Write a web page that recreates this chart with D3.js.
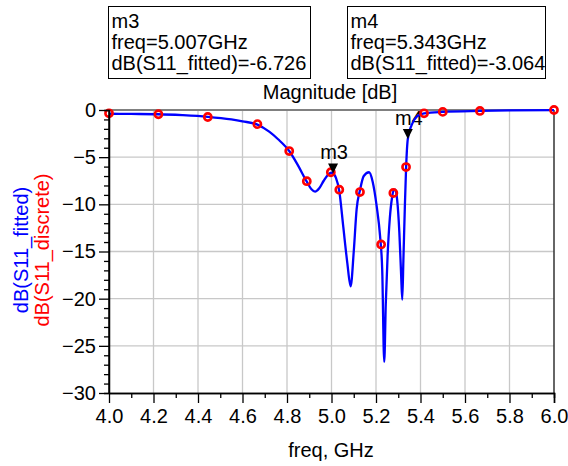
<!DOCTYPE html>
<html>
<head>
<meta charset="utf-8">
<script src="https://cdn.jsdelivr.net/npm/d3@7"></script>
<style>
  body { margin: 0; background: #fff; }
  svg text { font-family: "Liberation Sans", Arial, sans-serif; }
</style>
</head>
<body>
<svg id="chart" width="568" height="466"></svg>
<script>
// discrete samples (red circles)
const discreteFreq = [4.0, 4.222, 4.444, 4.667, 4.81, 4.889, 4.997, 5.035, 5.128, 5.223, 5.278, 5.335, 5.416, 5.5, 5.667, 6.0];
const discreteDb = [-0.35, -0.45, -0.74, -1.5, -4.35, -7.55, -6.6, -8.45, -8.7, -14.25, -8.8, -6.05, -0.35, -0.2, -0.1, 0.0];

// fitted curve (blue line)
const fittedFreq = [4.0, 4.1, 4.222, 4.33, 4.444, 4.55, 4.6, 4.667, 4.72, 4.76, 4.81, 4.85, 4.889, 4.91, 4.926, 4.945, 4.965, 4.985, 5.0, 5.007,
  5.02, 5.035, 5.053, 5.071, 5.086, 5.1, 5.113, 5.128, 5.145, 5.169, 5.185, 5.203, 5.218, 5.228, 5.237, 5.244, 5.252, 5.262, 5.272, 5.28, 5.287,
  5.295, 5.305, 5.313, 5.318, 5.323, 5.33, 5.335, 5.343, 5.36, 5.383, 5.416, 5.5, 5.667, 5.8, 6.0];
const fittedDb = [-0.4, -0.42, -0.45, -0.55, -0.72, -1.0, -1.2, -1.55, -2.3, -3.1, -4.35, -5.9, -7.6, -8.4, -8.65, -8.3, -7.5, -6.85, -6.65, -6.73,
  -7.2, -8.6, -12.4, -16.2, -18.7, -15.0, -10.5, -8.5, -7.0, -6.6, -7.6, -10.2, -13.3, -17.0, -26.7, -20.5, -15.5, -11.5, -9.3, -8.5, -8.45,
  -9.5, -13.0, -17.5, -20.1, -16.0, -10.0, -6.3, -3.06, -1.6, -0.7, -0.35, -0.2, -0.1, -0.05, -0.02];

const markerNames = ["m3", "m4"];
const markerFreq = [5.007, 5.343];
const markerDb = [-6.726, -3.064];

const xTicks = [4.0, 4.2, 4.4, 4.6, 4.8, 5.0, 5.2, 5.4, 5.6, 5.8, 6.0];
const yTicks = [0, -5, -10, -15, -20, -25, -30];

const svg = d3.select("#chart");
const x = d3.scaleLinear().domain([4, 6]).range([109, 554]);
const y = d3.scaleLinear().domain([-30, 0]).range([393, 110]);

// marker readout boxes
const boxes = svg.append("g");
markerNames.forEach((m, i) => {
  const bx = i == 0 ? 108.5 : 347.5;
  const bw = i == 0 ? 202 : 198;
  boxes.append("rect").attr("x", bx).attr("y", 6.5).attr("width", bw).attr("height", 72)
    .attr("fill", "none").attr("stroke", "#000").attr("stroke-width", 1);
  const lines = [m, "freq=" + markerFreq[i].toFixed(3) + "GHz", "dB(S11_fitted)=" + markerDb[i].toFixed(3)];
  lines.forEach((t, j) => {
    boxes.append("text").attr("x", bx + 3).attr("y", 28 + j * 21).attr("font-size", 20).text(t);
  });
});

svg.append("text").attr("x", 330).attr("y", 99).attr("text-anchor", "middle")
  .attr("font-size", 20).text("Magnitude [dB]");

// grid
const grid = svg.append("g").attr("stroke", "#c8c8c8").attr("stroke-width", 1.3);
grid.selectAll(".gx").data(xTicks.slice(1, -1)).enter().append("line")
  .attr("x1", d => x(d)).attr("x2", d => x(d)).attr("y1", y(0)).attr("y2", y(-30));
grid.selectAll(".gy").data(yTicks.slice(1, -1)).enter().append("line")
  .attr("x1", x(4)).attr("x2", x(6)).attr("y1", d => y(d)).attr("y2", d => y(d));

// top and right border
svg.append("line").attr("x1", x(4)).attr("x2", x(6)).attr("y1", y(0)).attr("y2", y(0))
  .attr("stroke", "#808080").attr("stroke-width", 2);
svg.append("line").attr("x1", x(6)).attr("x2", x(6)).attr("y1", y(0)).attr("y2", y(-30))
  .attr("stroke", "#333").attr("stroke-width", 1.5);

// marker labels (sit under the trace)
markerNames.forEach((m, i) => {
  svg.append("text").attr("x", x(markerFreq[i]) + 1).attr("y", y(markerDb[i]) - 14)
    .attr("text-anchor", "middle").attr("font-size", 20).text(m);
});

// fitted trace
const fitted = fittedFreq.map((f, i) => [f, fittedDb[i]]);
const line = d3.line().x(d => x(d[0])).y(d => y(d[1])).curve(d3.curveMonotoneX);
svg.append("path").datum(fitted).attr("d", line)
  .attr("fill", "none").attr("stroke", "#0000ff").attr("stroke-width", 2.3);

// discrete points
svg.append("g").selectAll("circle").data(discreteFreq).enter().append("circle")
  .attr("cx", d => x(d)).attr("cy", (d, i) => y(discreteDb[i])).attr("r", 3.6)
  .attr("fill", "none").attr("stroke", "#ff0000").attr("stroke-width", 2.6);

// marker triangles
markerNames.forEach((m, i) => {
  const px = x(markerFreq[i]), py = y(markerDb[i]);
  svg.append("path").attr("d", `M${px - 5},${py - 10}L${px + 5},${py - 10}L${px},${py}Z`).attr("fill", "#000");
});

// axes
const yAxis = svg.append("g").attr("transform", `translate(${x(4)},0)`)
  .call(d3.axisLeft(y).tickValues(yTicks).tickSize(10).tickPadding(3).tickFormat(d3.format("d")));
svg.append("g").attr("transform", `translate(${x(4)},0)`)
  .call(d3.axisLeft(y).tickValues(d3.range(-29, 0).filter(v => v % 5 != 0)).tickSize(5).tickFormat(""));
const xAxis = svg.append("g").attr("transform", `translate(0,${y(-30)})`)
  .call(d3.axisBottom(x).tickValues(xTicks).tickSize(10).tickPadding(6).tickFormat(d3.format(".1f")));
svg.append("g").attr("transform", `translate(0,${y(-30)})`)
  .call(d3.axisBottom(x).tickValues([4.1, 4.3, 4.5, 4.7, 4.9, 5.1, 5.3, 5.5, 5.7, 5.9]).tickSize(5).tickFormat(""));
svg.selectAll(".domain").attr("stroke", "#000").attr("stroke-width", 1.5);
svg.selectAll(".tick line").attr("stroke", "#000").attr("stroke-width", 1.3);
svg.selectAll(".tick text").attr("font-size", 20).attr("fill", "#000")
  .attr("font-family", "Liberation Sans, Arial, sans-serif");
yAxis.select(".domain").attr("d", `M0,${y(0)}V${y(-30)}`);
svg.selectAll(".domain").filter(function() { return this.parentNode != yAxis.node(); })
  .attr("d", function() { return d3.select(this).attr("d").replace(/^M[^V]*V0/, "M" + x(4) + ",0").replace(/V6$/, ""); });

svg.append("text").attr("x", 331).attr("y", 457).attr("text-anchor", "middle")
  .attr("font-size", 20).text("freq, GHz");

// y label, two rotated lines
const yl = svg.append("g").attr("transform", "translate(0,250) rotate(-90)");
yl.append("text").attr("x", 0).attr("y", 28).attr("text-anchor", "middle").attr("font-size", 20)
  .attr("fill", "#0000ff").text("dB(S11_fitted)");
yl.append("text").attr("x", 0).attr("y", 49).attr("text-anchor", "middle").attr("font-size", 20)
  .attr("fill", "#ff0000").text("dB(S11_discrete)");
</script>
</body>
</html>
